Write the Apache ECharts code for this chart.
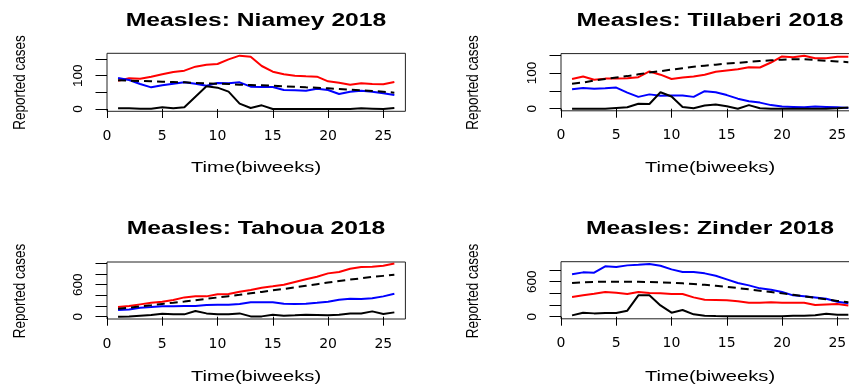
<!DOCTYPE html>
<html>
<head>
<meta charset="utf-8">
<script src="https://cdn.jsdelivr.net/npm/echarts@6/dist/echarts.min.js"></script>
<style>
html,body{margin:0;padding:0;background:#fff;}
#chart{width:849px;height:385px;}
</style>
</head>
<body>
<div id="chart"></div>
<script>
// ---------- data ----------
const weeks = [1,2,3,4,5,6,7,8,9,10,11,12,13,14,15,16,17,18,19,20,21,22,23,24,25,26];
const xTicks = [0,5,10,15,20,25];

const panelTitles = ['Measles: Niamey 2018','Measles: Tillaberi 2018','Measles: Tahoua 2018','Measles: Zinder 2018'];
const xAxisTitle = 'Time(biweeks)';
const yAxisTitle = 'Reported cases';

const niameyRed    = [85,92,91,97,104,111,115,127,133,135,149,160,157,129,112,104,100,98,97,83,79,73,77,75,74,81];
const niameyBlue   = [93,87,75,65,71,76,80,76,70,78,77,80,67,66,66,57,56,55,61,57,45,52,55,52,47,42];
const niameyDashed = [86,85,84,83,82,81,80,78,77,76,75,73,72,71,70,68,67,65,64,62,60,58,56,54,52,49];
const niameyBlack  = [2,2,1,1,5,2,5,37,68,64,52,16,3,11,0,0,0,0,0,0,0,0,2,1,0,3];

const tillaberiRed    = [83,90,81,84,84,85,88,104,95,83,87,90,95,103,107,110,116,115,129,146,144,148,141,141,145,145];
const tillaberiBlue   = [54,58,56,57,59,45,33,40,36,37,37,33,49,46,38,28,21,17,10,6,5,4,6,5,4,2];
const tillaberiDashed = [70,73,79,83,87,91,96,101,105,109,113,117,120,123,126,128,131,133,135,137,138,138,136,134,132,130];
const tillaberiBlack  = [0,0,0,0,2,4,14,13,46,34,5,1,9,12,7,0,10,1,0,0,0,0,0,0,1,3];

const tahouaRed    = [180,200,231,262,281,312,362,381,381,419,425,469,500,544,569,600,650,700,750,812,837,900,931,937,956,996];
const tahouaBlue   = [125,137,169,181,194,194,200,200,219,225,225,237,269,269,269,244,237,244,262,281,319,337,331,344,381,431];
const tahouaDashed = [150,170,195,215,240,262,285,310,335,360,385,410,440,465,495,520,550,580,610,640,670,695,720,745,765,785];
const tahouaBlack  = [0,6,19,31,56,44,44,106,62,44,44,62,6,6,37,19,25,37,31,25,37,62,62,100,50,81];

const zinderBlue   = [726,760,754,863,851,880,891,903,874,811,766,766,743,703,640,577,537,486,463,423,366,349,331,309,257,229];
const zinderRed    = [337,366,394,423,411,389,423,406,400,389,389,331,291,286,280,263,240,240,246,240,240,240,200,211,217,194];
const zinderDashed = [577,590,597,600,600,600,598,594,589,583,572,560,546,531,512,491,469,446,423,400,375,349,323,297,271,246];
const zinderBlack  = [23,69,57,63,63,103,366,366,194,69,114,40,17,11,6,6,6,6,6,6,17,17,23,51,34,34];

const yTickSets  = [[0,50,100,150],[0,50,100,150],[0,200,400,600,800,1000],[0,200,400,600,800]];
const yLabelSets = [[0,100],[0,100],[0,600],[0,600]];

// ---------- layout (styles only) ----------
const panels = [
  {grid:{left:107,top:53.3,width:298.4,height:58},  yMin:-6.9, yMax:167.1, cx:256, row:0},
  {grid:{left:561,top:53.6,width:298.4,height:57.2},yMin:-5.9, yMax:153.9, cx:710, row:0},
  {grid:{left:107,top:262,width:298.4,height:57},   yMin:-43,  yMax:1025,  cx:256, row:1},
  {grid:{left:561,top:261.7,width:298.4,height:57.1},yMin:-36, yMax:943,   cx:710, row:1}
];
const panelSeries = [
  [niameyRed, niameyBlue, niameyBlack, niameyDashed],
  [tillaberiRed, tillaberiBlue, tillaberiBlack, tillaberiDashed],
  [tahouaRed, tahouaBlue, tahouaBlack, tahouaDashed],
  [zinderRed, zinderBlue, zinderBlack, zinderDashed]
];
const seriesStyles = [
  {color:'#ff0000', type:'solid'},
  {color:'#0000ff', type:'solid'},
  {color:'#000000', type:'solid'},
  {color:'#000000', type:[8,5]}
];

const grids = [], xAxes = [], yAxes = [], series = [], graphics = [];
panels.forEach((p, i) => {
  grids.push(Object.assign({show:true, borderColor:'#222', borderWidth:1, backgroundColor:'transparent', containLabel:false, outerBoundsMode:'none'}, p.grid));
  xAxes.push({
    type:'value', gridIndex:i, min:0, max:27,
    axisLine:{show:false},
    axisTick:{show:true, length:9, lineStyle:{color:'#000', width:1}, customValues:xTicks},
    axisLabel:{show:true, customValues:xTicks, margin:18, fontFamily:'DejaVu Sans', fontSize:14, color:'#000', hideOverlap:false},
    splitLine:{show:false}
  });
  yAxes.push({
    type:'value', gridIndex:i, min:p.yMin, max:p.yMax,
    axisLine:{show:false},
    axisTick:{show:true, length:11.5, lineStyle:{color:'#000', width:1}, customValues:yTickSets[i]},
    axisLabel:{show:true, customValues:yLabelSets[i], rotate:90, margin:22, fontFamily:'Liberation Sans', fontSize:13.5, color:'#000'},
    splitLine:{show:false}
  });
  panelSeries[i].forEach((vals, k) => {
    series.push({
      type:'line', xAxisIndex:i, yAxisIndex:i,
      data: weeks.map((w, j) => [w, vals[j]]),
      showSymbol:false, symbol:'none', silent:true, animation:false,
      lineStyle:{color:seriesStyles[k].color, width:2, type:seriesStyles[k].type},
      z: 2 + k
    });
  });
  const rowOff = p.row === 0 ? 0 : 208.5;
  graphics.push({
    type:'text', x:p.cx, y:21 + rowOff, scaleX:1.37,
    style:{text:panelTitles[i], fontFamily:'Liberation Sans', fontWeight:'bold', fontSize:18, fill:'#000', align:'center', verticalAlign:'middle'}
  });
  graphics.push({
    type:'text', x:p.cx, y:168 + rowOff, scaleX:1.3,
    style:{text:xAxisTitle, fontFamily:'Liberation Sans', fontSize:15.5, fill:'#000', align:'center', verticalAlign:'middle'}
  });
  graphics.push({
    type:'text', x:(i % 2 === 0 ? 20.7 : 473.8), y:82.5 + rowOff, rotation:Math.PI/2, scaleY:1.25,
    style:{text:yAxisTitle, fontFamily:'Liberation Sans', fontSize:13.5, fill:'#000', align:'center', verticalAlign:'middle'}
  });
});

const chart = echarts.init(document.getElementById('chart'), null, {renderer:'canvas'});
chart.setOption({
  animation:false,
  backgroundColor:'#ffffff',
  grid:grids, xAxis:xAxes, yAxis:yAxes, series:series, graphic:graphics
});
</script>
</body>
</html>
